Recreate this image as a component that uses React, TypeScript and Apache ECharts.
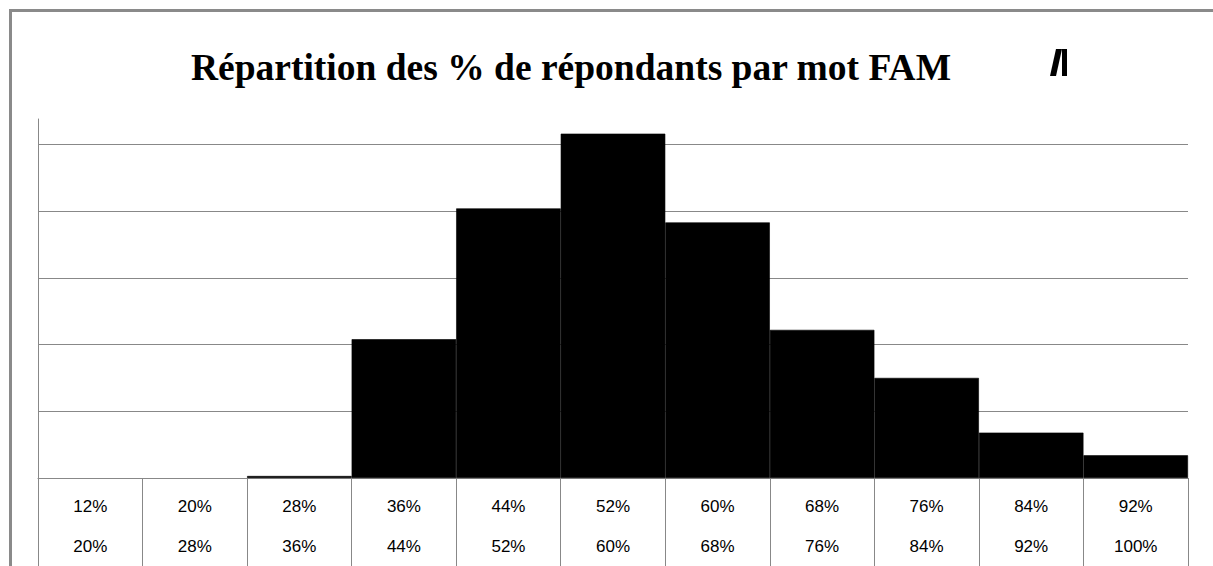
import React, { useEffect, useRef } from "react";
import * as echarts from "echarts";

const titleText = "Répartition des % de répondants par mot FAM";
const binStarts = ["12%", "20%", "28%", "36%", "44%", "52%", "60%", "68%", "76%", "84%", "92%"];
const binEnds = ["20%", "28%", "36%", "44%", "52%", "60%", "68%", "76%", "84%", "92%", "100%"];
const shares = [0, 0, 0.03, 2.08, 4.04, 5.16, 3.83, 2.22, 1.5, 0.68, 0.34];

export default function App() {
  const ref = useRef<HTMLDivElement>(null);
  useEffect(() => {
    if (!ref.current) return;
    const chart = echarts.init(ref.current, null, { renderer: "svg" });
    const categories = binStarts.map((s, i) => s + "\n" + binEnds[i]);
    const gray = "#888888";
    chart.setOption({
      animation: false,
      backgroundColor: "#ffffff",
      title: {
        text: titleText,
        left: 566,
        textAlign: "center",
        top: 43,
        textStyle: {
          fontFamily: "Liberation Serif",
          fontWeight: "bold",
          fontSize: 37.5,
          color: "#000000",
        },
      },
      graphic: [
        {
          type: "rect",
          shape: { x: 10.5, y: 10.5, width: 1230, height: 620 },
          style: { fill: "none", stroke: "#8a8a8a", lineWidth: 3 },
          silent: true,
        },
        {
          type: "polygon",
          shape: { points: [[1056, 49], [1062, 49], [1056, 76], [1050, 76]] },
          style: { fill: "#000000" },
        },
        {
          type: "polygon",
          shape: { points: [[1062, 49], [1067, 49], [1067, 76], [1062, 76]] },
          style: { fill: "#000000" },
        },
      ],
      grid: { left: 38, right: 25, top: 119, bottom: 86.5, containLabel: false },
      xAxis: {
        type: "category",
        data: categories,
        boundaryGap: true,
        axisLine: { show: true, lineStyle: { color: gray, width: 1 } },
        axisTick: { show: true, length: 90, interval: 0, lineStyle: { color: gray, width: 1 } },
        axisLabel: {
          interval: 0,
          margin: 8,
          fontFamily: "Liberation Sans",
          fontSize: 17,
          lineHeight: 40,
          color: "#000000",
        },
        splitLine: { show: false },
      },
      yAxis: {
        type: "value",
        min: 0,
        max: 5.38,
        interval: 1,
        axisLine: { show: true, lineStyle: { color: gray, width: 1 } },
        axisTick: { show: false },
        axisLabel: { show: false },
        splitLine: { show: true, showMaxLine: false, lineStyle: { color: gray, width: 1 } },
      },
      series: [
        {
          type: "bar",
          data: shares.map((v) => ({
            value: v,
            itemStyle: v === 0 ? { borderWidth: 0 } : undefined,
          })),
          barCategoryGap: "0%",
          itemStyle: { color: "#000000", borderColor: "#000000", borderWidth: 0.6 },
        },
      ],
    });
    return () => chart.dispose();
  }, []);
  return (
    <div
      ref={ref}
      style={{ position: "absolute", left: 0, top: 0, width: 1213, height: 566 }}
    />
  );
}
